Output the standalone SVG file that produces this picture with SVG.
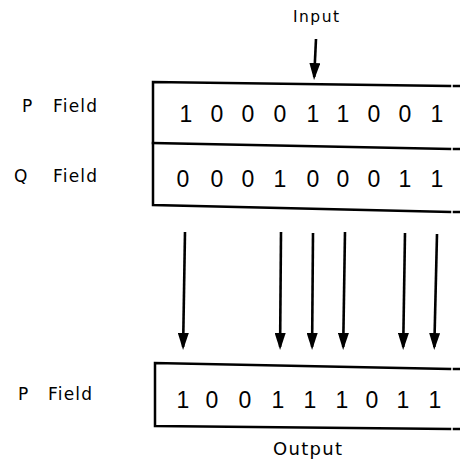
<svg xmlns="http://www.w3.org/2000/svg" width="460" height="461" viewBox="0 0 460 461">
<style>
.box{fill:none;stroke:#000;stroke-width:2.5;stroke-linecap:square}
.lbl{font-family:"DejaVu Sans","Liberation Sans",Arial,sans-serif;font-size:17px;fill:#000}
.dig{font-family:"Liberation Sans",Arial,sans-serif;font-size:23px;fill:#000;text-anchor:middle}
.arr{stroke:#000;stroke-width:2.6;fill:none;marker-end:url(#ah)}
</style>
<defs>
<marker id="ah" viewBox="0 0 17 11" refX="14" refY="5.5" markerWidth="17" markerHeight="11" markerUnits="userSpaceOnUse" orient="auto">
<path d="M0,0 L17,5.5 L0,11 z" fill="#000"/>
</marker>
</defs>
<rect width="460" height="461" fill="#fff"/>
<g id="input-label"><text class="lbl" x="293" y="22" style="font-size:15.5px" textLength="46" lengthAdjust="spacing">Input</text></g>
<g id="label-p-top"><text class="lbl" y="112"><tspan x="22">P</tspan> <tspan x="53" textLength="44" lengthAdjust="spacing">Field</tspan></text></g>
<g id="label-q"><text class="lbl" y="182"><tspan x="14">Q</tspan> <tspan x="53" textLength="44" lengthAdjust="spacing">Field</tspan></text></g>
<g id="label-p-bottom"><text class="lbl" y="400"><tspan x="18">P</tspan> <tspan x="48" textLength="44" lengthAdjust="spacing">Field</tspan></text></g>
<g id="register-pq">
<path class="box" d="M450,86 L153,82 L153,205 L450,212"/>
<path class="box" d="M153,143 L450,149"/>
<path class="box" d="M454,86 L459,86 M454,149 L459,149 M454,212 L459,212"/>
<text class="dig" y="121.5" x="186 217 248 280 313 343 374 405 437">100011001</text>
<text class="dig" y="186.5" x="183 217 248 280 313 343 374 405 437">000100011</text>
</g>
<g id="register-p-out">
<path class="box" d="M450,369 L155,363 L155,426 L450,429"/>
<path class="box" d="M454,369 L459,369 M454,429 L459,429"/>
<text class="dig" y="408" x="183 212 245 278 310 342 372 403 435">100111011</text>
</g>
<g id="output-label"><text class="lbl" x="273" y="455" style="font-size:18px" textLength="69" lengthAdjust="spacing">Output</text></g>
<g id="connectors">
<line class="arr" x1="316" y1="39" x2="314.2" y2="77"/>
<line class="arr" x1="185" y1="232" x2="183.1" y2="347"/>
<line class="arr" x1="281" y1="232" x2="280.1" y2="347"/>
<line class="arr" x1="313" y1="233" x2="312.1" y2="347"/>
<line class="arr" x1="345" y1="232" x2="343.2" y2="347"/>
<line class="arr" x1="405" y1="233" x2="403.2" y2="347"/>
<line class="arr" x1="437" y1="234" x2="434.3" y2="347"/>
</g>
</svg>
